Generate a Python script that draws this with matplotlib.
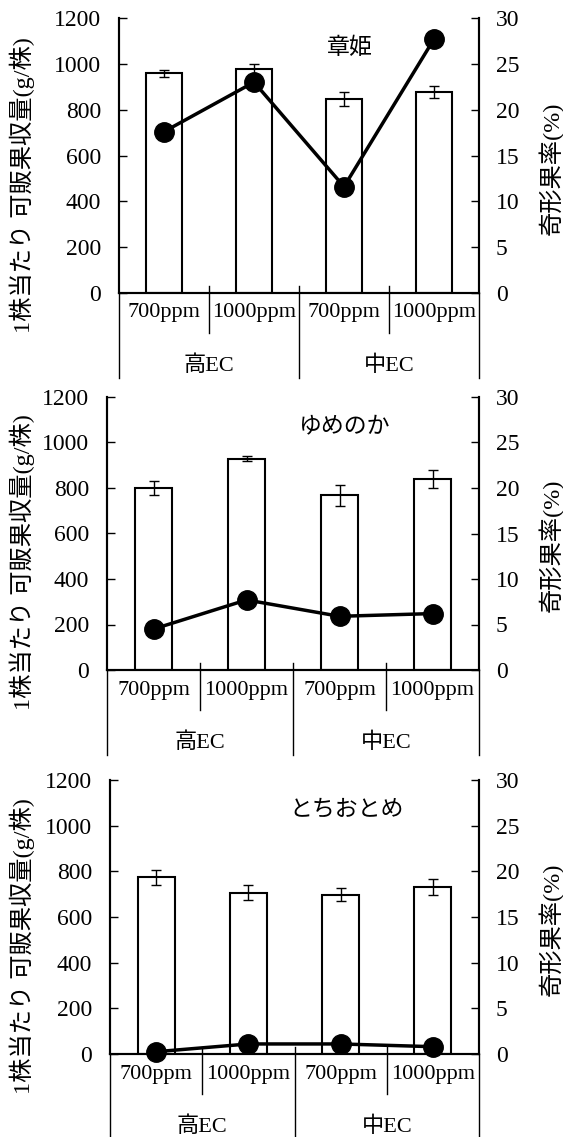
import matplotlib
matplotlib.use('Agg')
import matplotlib.pyplot as plt

plt.rcParams['font.family'] = ['Liberation Serif', 'Noto Sans CJK JP']

# marketable yield per plant (g/plant), SE and malformed fruit rate (%)
conc_labels = ['700ppm', '1000ppm', '700ppm', '1000ppm']
ec_labels = ['高EC', '中EC']
cultivars = ['章姫', 'ゆめのか', 'とちおとめ']

akihime_yield = [958, 976, 846, 878]
akihime_err = [17, 24, 31, 27]
akihime_deform = [17.6, 23.0, 11.6, 27.7]

yumenoka_yield = [800, 929, 768, 841]
yumenoka_err = [30, 12, 47, 40]
yumenoka_deform = [4.5, 7.7, 5.9, 6.2]

tochiotome_yield = [773, 706, 698, 731]
tochiotome_err = [34, 33, 30, 36]
tochiotome_deform = [0.25, 1.1, 1.1, 0.8]

W, H = 563, 1137
fig = plt.figure(figsize=(W / 100, H / 100), dpi=100)

# panel boxes in pixels: left, right, top, bottom
boxes = [(119, 479, 18, 293), (107, 479, 397, 670), (110, 479, 780, 1054)]
series = [(akihime_yield, akihime_err, akihime_deform),
          (yumenoka_yield, yumenoka_err, yumenoka_deform),
          (tochiotome_yield, tochiotome_err, tochiotome_deform)]

for name, (l, r, t, b), (yld, err, dfm) in zip(cultivars, boxes, series):
    ax = fig.add_axes([l / W, 1 - b / H, (r - l) / W, (b - t) / H])
    x = list(range(len(yld)))
    ax.bar(x, yld, 0.4, yerr=err, color='white', edgecolor='black',
           linewidth=1.5,
           error_kw=dict(ecolor='black', elinewidth=1, capsize=3.5, capthick=1))
    ax.set_xlim(-0.5, 3.5)
    ax.set_ylim(0, 1200)
    ax.set_yticks(range(0, 1201, 200))
    ax.set_xticks([])
    ax.tick_params(axis='y', direction='in', length=6, width=1,
                   labelsize=17, pad=13)
    ax.spines['top'].set_visible(False)
    for s in ['left', 'right', 'bottom']:
        ax.spines[s].set_linewidth(1.5)

    ax2 = ax.twinx()
    ax2.plot(x, dfm, '-o', color='black', lw=2.5, ms=14, clip_on=False,
             zorder=5)
    ax2.set_ylim(0, 30)
    ax2.set_yticks(range(0, 31, 5))
    ax2.tick_params(axis='y', direction='in', length=6, width=1,
                    labelsize=17, pad=12)
    ax2.spines['top'].set_visible(False)
    for s in ['left', 'right', 'bottom']:
        ax2.spines[s].set_linewidth(1.5)

    # two-level category axis below the plot
    f = 1 / (b - t)
    tr = ax.get_xaxis_transform()
    for xs in [0.5, 2.5]:
        ax.plot([xs, xs], [7 * f, -40 * f], transform=tr, clip_on=False,
                color='black', lw=1)
    for xs in [-0.5, 3.5]:
        ax.plot([xs, xs], [0, -85 * f], transform=tr, clip_on=False,
                color='black', lw=1)
    ax.plot([1.5, 1.5], [7 * f, -85 * f], transform=tr, clip_on=False,
            color='black', lw=1)
    for i, lab in enumerate(conc_labels):
        ax.text(i, -20 * f, lab, transform=tr, ha='center', va='center',
                fontsize=16)
    for j, g in enumerate(ec_labels):
        ax.text(0.5 + 2 * j, -73 * f, g, transform=tr, ha='center',
                va='center', fontsize=16)

    ax.text(0.64, 0.89, name, transform=ax.transAxes, ha='center',
            va='center', fontsize=16.5)

    fig.text(22 / W, 1 - (b - 108) / H, '1株当たり 可販果収量(g/株)',
             rotation=90, ha='center', va='center', fontsize=17.5)
    fig.text(551 / W, 1 - (b - 125) / H, '奇形果率(%)',
             rotation=90, ha='center', va='center', fontsize=17.5)

fig.savefig('out.png', dpi=100)
